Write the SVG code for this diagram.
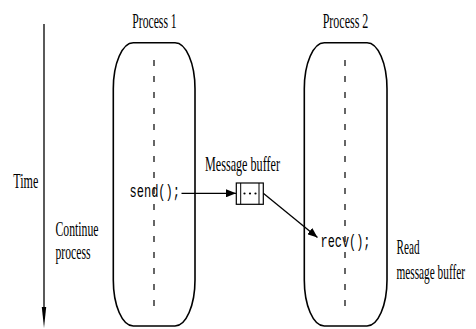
<svg xmlns="http://www.w3.org/2000/svg" width="476" height="329" viewBox="0 0 476 329">
<defs>
<style>
.lbl{font-family:"Liberation Serif","Times New Roman",serif;font-size:22px;fill:#000}
.code{font-family:"Liberation Mono","Courier New",monospace;font-size:19px;fill:#000}
.proc{fill:none;stroke:#000;stroke-width:1.6}
.life{stroke:#000;stroke-width:1.2;stroke-dasharray:6,10;fill:none}
.conn{stroke:#000;stroke-width:1.3;fill:none}
</style>
<marker id="ah" viewBox="0 0 10 8" refX="10" refY="4" markerWidth="10" markerHeight="8" markerUnits="userSpaceOnUse" orient="auto">
<path d="M0,0 L10,4 L0,8 Z" fill="#000"/>
</marker>
</defs>
<rect width="476" height="329" fill="#fff"/>
<g id="time">
<line x1="44" y1="24" x2="44" y2="310" stroke="#000" stroke-width="1.3"/>
<polygon points="41.8,307 46.2,307 44,328" fill="#000"/>
<text class="lbl" x="13.3" y="188.3" textLength="25" lengthAdjust="spacingAndGlyphs">Time</text>
</g>
<g id="process1">
<text class="lbl" x="132.3" y="28.3" textLength="44.4" lengthAdjust="spacingAndGlyphs">Process 1</text>
<rect class="proc" x="113.3" y="42.8" width="81.7" height="283.2" rx="20" ry="46"/>
<line class="life" x1="154" y1="60" x2="154" y2="310"/>
<text class="code" x="129.5" y="197" textLength="50.5" lengthAdjust="spacingAndGlyphs">send();</text>
<text class="lbl" x="55.5" y="235.5" textLength="43" lengthAdjust="spacingAndGlyphs">Continue</text>
<text class="lbl" x="55.5" y="258.5" textLength="35" lengthAdjust="spacingAndGlyphs">process</text>
</g>
<g id="process2">
<text class="lbl" x="322.7" y="28.3" textLength="45.6" lengthAdjust="spacingAndGlyphs">Process 2</text>
<rect class="proc" x="304.3" y="42.8" width="82.7" height="283.2" rx="20" ry="46"/>
<line class="life" x1="345" y1="60" x2="345" y2="310"/>
<text class="code" x="320.5" y="247" textLength="50" lengthAdjust="spacingAndGlyphs">recv();</text>
<text class="lbl" x="396.5" y="254" textLength="23" lengthAdjust="spacingAndGlyphs">Read</text>
<text class="lbl" transform="translate(396.5,279) scale(0.514,1)" x="0" y="0">message buffer</text>
</g>
<g id="buffer">
<text class="lbl" x="205" y="170.5" textLength="75" lengthAdjust="spacingAndGlyphs">Message buffer</text>
<rect x="236.3" y="183" width="27" height="21.3" fill="#fff" stroke="#000" stroke-width="1.2"/>
<line x1="240.7" y1="183" x2="240.7" y2="204.3" stroke="#000" stroke-width="1"/>
<line x1="259" y1="183" x2="259" y2="204.3" stroke="#000" stroke-width="1"/>
<circle cx="244.5" cy="193.5" r="1.1" fill="#000"/>
<circle cx="250" cy="193.5" r="1.1" fill="#000"/>
<circle cx="255.5" cy="193.5" r="1.1" fill="#000"/>
</g>
<g id="connectors">
<line class="conn" x1="181.5" y1="193.3" x2="236" y2="193.3" marker-end="url(#ah)"/>
<line class="conn" x1="263.3" y1="193.3" x2="317.5" y2="237.5" marker-end="url(#ah)"/>
</g>
</svg>
